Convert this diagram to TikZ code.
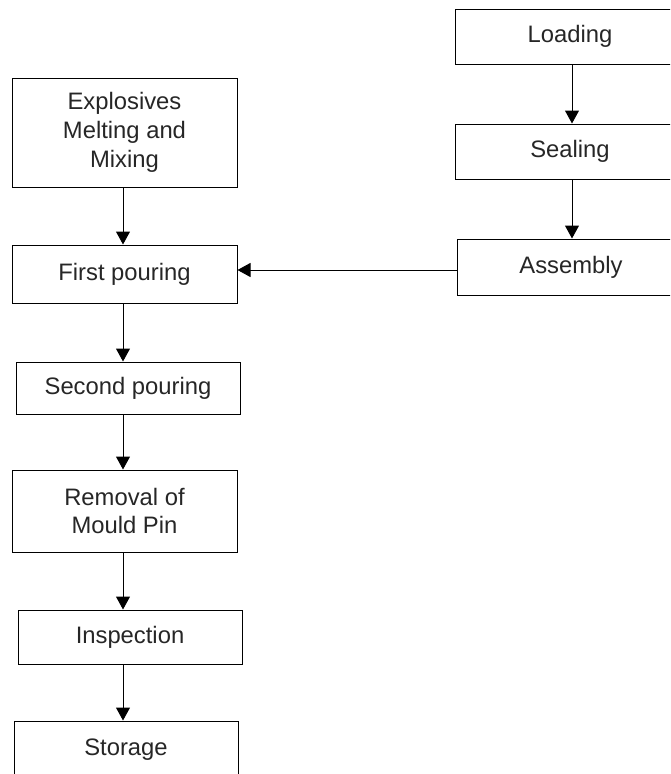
\documentclass[tikz,border=0pt]{standalone}
\usepackage{fontspec}
\setmainfont{Liberation Sans}
\usetikzlibrary{arrows.meta}
\begin{document}
\begin{tikzpicture}[x=1pt,y=-1pt,
  procbox/.style={draw, line width=1pt, rectangle, inner sep=0pt, align=center,
    font=\fontsize{23.8}{28.7}\selectfont, text=black!85},
  flow/.style={line width=1pt, -{Triangle[length=13pt,width=14pt]}}]
  \useasboundingbox (0,0) rectangle (670,774);
  \clip (0,0) rectangle (670,774);
  % column guides for the vertical connectors and the cross link
  \coordinate (lc) at (123,0);
  \coordinate (rc) at (572,0);
  \coordinate (hl) at (0,270);
  % right-hand column
  \node[procbox, minimum width=230pt, minimum height=55pt] (load) at (570,36.5) {Loading};
  \node[procbox, minimum width=230pt, minimum height=55pt] (seal) at (570,151.5) {Sealing};
  \node[procbox, minimum width=228pt, minimum height=56pt] (asm) at (571,267) {Assembly};
  % left-hand column
  \node[procbox, minimum width=225pt, minimum height=109pt] (exp) at (124.5,132.5) {Explosives\\Melting and\\Mixing};
  \node[procbox, minimum width=225pt, minimum height=58pt] (fp) at (124.5,274) {First pouring};
  \node[procbox, minimum width=224pt, minimum height=52pt] (sp) at (128,388) {Second pouring};
  \node[procbox, minimum width=225pt, minimum height=82pt] (rm) at (124.5,511) {Removal of\\Mould Pin};
  \node[procbox, minimum width=224pt, minimum height=54pt] (insp) at (130,637) {Inspection};
  \node[procbox, minimum width=224pt, minimum height=58pt] (stor) at (126,750) {Storage};
  % connectors
  \draw[flow] (load.south -| rc) -- (seal.north -| rc);
  \draw[flow] (seal.south -| rc) -- (asm.north -| rc);
  \draw[flow] (asm.west |- hl) -- (fp.east |- hl);
  \draw[flow] (exp.south -| lc) -- (fp.north -| lc);
  \draw[flow] (fp.south -| lc) -- (sp.north -| lc);
  \draw[flow] (sp.south -| lc) -- (rm.north -| lc);
  \draw[flow] (rm.south -| lc) -- (insp.north -| lc);
  \draw[flow] (insp.south -| lc) -- (stor.north -| lc);
\end{tikzpicture}
\end{document}
